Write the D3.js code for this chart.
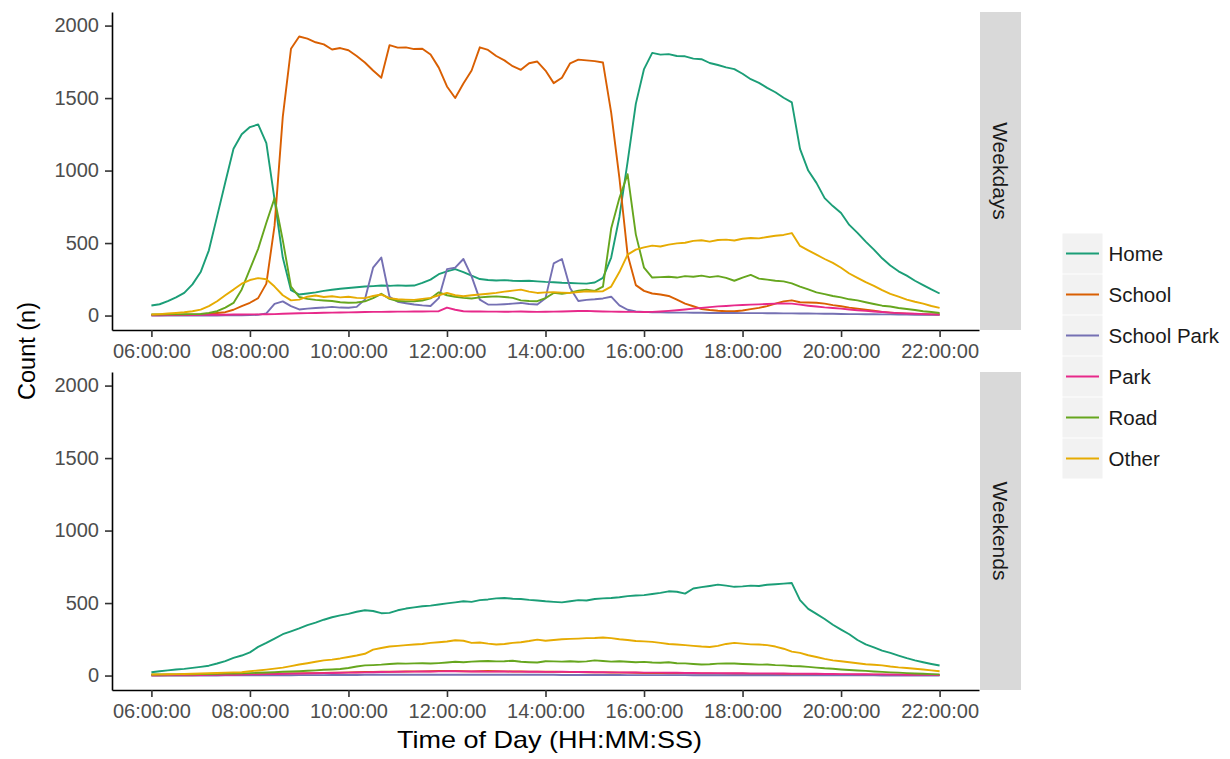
<!DOCTYPE html>
<html>
<head>
<meta charset="utf-8">
<script src="https://cdn.jsdelivr.net/npm/d3@7"></script>
<style>
  html, body { margin: 0; padding: 0; background: #fff; }
  svg { display: block; font-family: "Liberation Sans", Arial, sans-serif; }
</style>
</head>
<body>
<svg id="chart" width="1230" height="759"></svg>
<script>
// Counts per location type, sampled every 10 minutes from 06:00 to 22:00.
const startTime = "06:00:00";
const stepMinutes = 10;

const categories = ["Home", "School", "School Park", "Park", "Road", "Other"];
const colors = ["#1B9E77", "#D95F02", "#7570B3", "#E7298A", "#66A61E", "#E6AB02"];
const facets = ["Weekdays", "Weekends"];

const xTickLabels = ["06:00:00", "08:00:00", "10:00:00", "12:00:00", "14:00:00",
                     "16:00:00", "18:00:00", "20:00:00", "22:00:00"];
const yTickValues = [0, 500, 1000, 1500, 2000];

// ---- Weekdays ----
const weekdayHome = [69,78,99,125,156,215,300,450,684,920,1150,1250,1300,1318,1190,800,400,175,145,152,
  160,170,178,185,190,195,200,203,207,205,208,206,207,225,248,285,305,320,300,275,
  252,245,242,244,240,238,240,236,232,230,226,224,222,220,228,260,400,680,1060,1460,
  1700,1812,1800,1803,1790,1788,1772,1768,1742,1728,1712,1700,1668,1630,1605,1570,1540,1502,1470,1150,
  1000,915,810,755,707,625,570,510,455,395,345,305,275,240,210,180,152];
const weekdaySchool = [3,3,4,4,5,6,8,12,18,23,40,65,88,120,220,620,1370,1840,1925,1910,
  1885,1870,1835,1845,1830,1790,1745,1690,1640,1865,1848,1850,1838,1840,1800,1710,1580,1500,1600,1690,
  1850,1832,1790,1760,1720,1695,1740,1752,1690,1603,1640,1740,1765,1760,1755,1745,1400,950,420,210,
  170,152,145,135,110,82,64,45,38,33,30,30,35,44,53,65,82,98,105,92,
  90,88,82,72,64,55,48,40,33,25,20,16,13,11,9,8,7];
const weekdaySchoolPark = [0,0,0,0,0,0,0,0,0,1,1,2,3,5,15,80,98,65,42,48,
  52,55,60,55,54,60,110,330,400,130,95,85,76,70,66,120,320,330,390,270,
  110,76,75,78,82,87,80,76,120,360,390,190,100,108,112,118,130,70,40,28,
  25,23,22,21,20,20,19,19,18,18,18,18,17,17,17,16,16,15,15,14,
  14,13,12,12,11,10,10,9,9,8,8,7,7,6,6,5,5];
const weekdayPark = [2,2,3,3,4,4,5,5,6,6,7,7,8,8,9,10,12,14,16,17,
  18,19,20,21,22,23,24,25,25,26,27,27,28,28,29,30,55,40,30,28,
  28,27,27,26,27,28,26,25,26,27,28,30,31,32,30,28,27,26,25,25,
  24,25,28,32,37,42,48,53,58,63,66,70,73,75,77,80,82,83,82,75,
  68,62,56,52,48,42,37,32,28,24,20,17,14,12,10,8,7];
const weekdayRoad = [7,7,8,8,9,10,11,18,30,55,87,180,320,460,640,810,520,200,128,115,
  108,104,100,92,88,90,98,120,150,115,100,98,99,104,118,160,140,130,122,118,
  125,130,132,128,122,105,100,99,120,156,150,158,172,179,170,200,600,810,975,560,
  330,262,265,268,262,272,268,275,265,272,260,240,262,280,255,248,240,236,222,200,
  180,160,148,135,125,112,105,92,80,68,62,52,45,38,30,24,18];
const weekdayOther = [7,10,14,18,23,30,41,65,99,140,179,220,245,258,250,200,140,105,110,130,
  138,128,133,125,130,122,120,135,145,120,112,110,108,115,122,140,156,140,133,140,
  145,150,156,165,172,179,165,156,160,161,158,156,162,168,166,168,200,300,420,455,
  470,482,476,489,498,502,515,519,510,521,524,518,530,535,532,542,550,556,569,480,
  450,420,390,363,330,290,260,230,205,175,150,130,110,95,82,66,53];

// ---- Weekends ----
const weekendHome = [23,30,36,42,46,53,60,68,83,100,122,138,160,198,225,255,285,305,325,348,
  365,385,402,415,425,440,450,445,430,432,450,462,470,478,482,490,498,505,512,508,
  520,525,532,535,530,528,522,518,512,508,505,512,520,518,528,532,535,540,548,552,
  555,562,570,581,578,565,600,610,618,627,620,612,615,620,618,626,630,634,638,520,
  460,425,390,350,317,285,245,215,195,172,156,138,120,105,92,80,69];
const weekendSchool = [1,1,1,2,2,2,3,3,4,4,5,6,7,8,9,10,12,14,15,16,
  17,18,19,20,22,23,24,25,26,26,27,28,29,29,30,31,32,31,30,29,
  30,31,30,29,28,28,27,27,26,26,25,24,24,23,22,22,21,20,20,19,
  18,18,17,16,16,15,15,14,14,13,13,12,12,11,11,10,10,9,9,9,
  8,8,7,7,6,6,6,5,5,5,4,4,4,3,3,3,3];
const weekendSchoolPark = [0,0,0,0,0,0,0,0,0,1,1,1,1,1,2,2,2,2,3,3,
  3,3,4,4,4,4,5,5,5,5,5,6,6,6,6,6,6,6,6,6,
  6,5,5,5,5,5,5,5,5,5,4,4,4,4,4,4,4,4,3,3,
  3,3,3,3,3,3,2,2,2,2,2,2,2,2,2,2,2,1,1,1,
  1,1,1,1,1,1,1,1,1,0,0,0,0,0,0,0,0];
const weekendPark = [2,2,3,3,3,4,4,5,5,6,6,7,8,9,10,11,12,13,14,15,
  16,17,18,19,20,21,22,23,24,25,26,27,27,28,28,29,30,30,29,28,
  28,27,28,28,27,27,26,26,25,25,26,25,24,24,23,23,22,22,21,21,
  20,20,20,19,19,18,18,17,17,17,16,16,16,15,15,15,14,14,13,13,
  12,12,11,11,10,10,9,9,8,8,7,7,6,6,5,5,4];
const weekendRoad = [7,7,8,8,9,9,10,11,12,13,14,15,17,19,21,23,26,28,30,33,
  36,40,42,45,52,62,70,72,75,80,83,82,84,85,83,86,90,95,92,96,
  99,100,98,99,102,95,92,90,99,98,96,99,95,98,105,100,96,99,95,92,
  94,90,88,92,85,84,80,76,78,82,84,83,80,78,75,76,72,70,66,64,
  60,55,50,47,42,38,35,32,28,25,22,20,17,14,12,10,8];
const weekendOther = [7,8,9,10,11,12,14,16,18,20,22,23,30,35,41,48,55,65,76,85,
  95,105,110,118,128,138,150,179,190,200,205,210,214,218,225,230,235,243,240,225,
  228,220,214,218,225,230,238,248,240,245,250,253,255,258,259,262,258,250,245,238,
  236,232,225,218,214,210,205,200,197,205,218,225,220,215,214,210,200,185,165,156,
  140,128,115,105,99,92,85,78,74,70,62,56,52,47,42,36,30];

const facetSeries = {
  "Weekdays": [weekdayHome, weekdaySchool, weekdaySchoolPark, weekdayPark, weekdayRoad, weekdayOther],
  "Weekends": [weekendHome, weekendSchool, weekendSchoolPark, weekendPark, weekendRoad, weekendOther]
};

// ---- drawing ----
const parseTime = d3.timeParse("%H:%M:%S");
const t0 = parseTime(startTime);
const timeAt = i => new Date(t0.getTime() + i * stepMinutes * 60000);

const svg = d3.select("#chart");
const panelLeft = 112, panelRight = 979;
const panelTops = [12, 372], panelHeight = 318;
const stripWidth = 41;

const xTicks = xTickLabels.map(parseTime);
const xSpan = xTicks[xTicks.length - 1] - xTicks[0];
const x = d3.scaleTime()
  .domain([new Date(+xTicks[0] - xSpan * 0.05), new Date(+xTicks[xTicks.length - 1] + xSpan * 0.05)])
  .range([panelLeft, panelRight]);

const yMaxData = 1994;
const yPad = yMaxData * 0.05;

const color = d3.scaleOrdinal().domain(categories).range(colors);

facets.forEach((facet, fi) => {
  const top = panelTops[fi];
  const y = d3.scaleLinear().domain([-yPad, yMaxData + yPad]).range([top + panelHeight, top]);

  const g = svg.append("g");

  // series lines
  const line = d3.line().x((d, i) => x(timeAt(i))).y(d => y(d));
  facetSeries[facet].forEach((vals, si) => {
    g.append("path")
      .datum(vals)
      .attr("fill", "none")
      .attr("stroke", color(categories[si]))
      .attr("stroke-width", 1.9)
      .attr("stroke-linejoin", "round")
      .attr("d", line);
  });

  // y axis
  const ya = g.append("g")
    .attr("transform", `translate(${panelLeft},0)`)
    .call(d3.axisLeft(y).tickValues(yTickValues).tickFormat(d3.format("d")).tickSize(7).tickSizeOuter(0).tickPadding(6));
  // x axis
  const xa = g.append("g")
    .attr("transform", `translate(0,${top + panelHeight})`)
    .call(d3.axisBottom(x).tickValues(xTicks).tickFormat(d3.timeFormat("%H:%M:%S")).tickSize(7).tickSizeOuter(0).tickPadding(7));

  [ya, xa].forEach(a => {
    a.select(".domain").attr("stroke", "#000").attr("stroke-width", 1.6);
    a.selectAll(".tick line").attr("stroke", "#333").attr("stroke-width", 1.6);
    a.selectAll(".tick text").attr("fill", "#4D4D4D").attr("font-size", 20)
      .attr("font-family", "'Liberation Sans', Arial, sans-serif");
  });

  // facet strip
  svg.append("rect")
    .attr("x", panelRight + 1).attr("y", top)
    .attr("width", stripWidth).attr("height", panelHeight)
    .attr("fill", "#D9D9D9");
  svg.append("text")
    .attr("transform", `translate(${panelRight + 1 + stripWidth / 2},${top + panelHeight / 2}) rotate(90)`)
    .attr("text-anchor", "middle")
    .attr("dy", "0.36em")
    .attr("font-size", 21)
    .attr("fill", "#1A1A1A")
    .text(facet);
});

// axis titles
svg.append("text")
  .attr("x", (panelLeft + panelRight) / 2 + 4).attr("y", 748)
  .attr("text-anchor", "middle")
  .attr("font-size", 24)
  .attr("textLength", 305).attr("lengthAdjust", "spacingAndGlyphs")
  .attr("fill", "#000")
  .text("Time of Day (HH:MM:SS)");

svg.append("text")
  .attr("transform", `translate(35,${(panelTops[0] + panelTops[1] + panelHeight) / 2}) rotate(-90)`)
  .attr("text-anchor", "middle")
  .attr("font-size", 23.5)
  .attr("fill", "#000")
  .text("Count (n)");

// legend
const legendX = 1062.5, legendY = 233.5, keySize = 40, keyStep = 41;
const legend = svg.append("g");
categories.forEach((c, i) => {
  const ky = legendY + i * keyStep;
  legend.append("rect")
    .attr("x", legendX).attr("y", ky)
    .attr("width", keySize).attr("height", keySize)
    .attr("fill", "#F2F2F2");
  legend.append("line")
    .attr("x1", legendX + 3.5).attr("x2", legendX + keySize - 3.5)
    .attr("y1", ky + keySize / 2).attr("y2", ky + keySize / 2)
    .attr("stroke", color(c)).attr("stroke-width", 2);
  legend.append("text")
    .attr("x", legendX + keySize + 6).attr("y", ky + keySize / 2)
    .attr("dy", "0.36em")
    .attr("font-size", 20.5)
    .attr("fill", "#1A1A1A")
    .text(c);
});
</script>
</body>
</html>
